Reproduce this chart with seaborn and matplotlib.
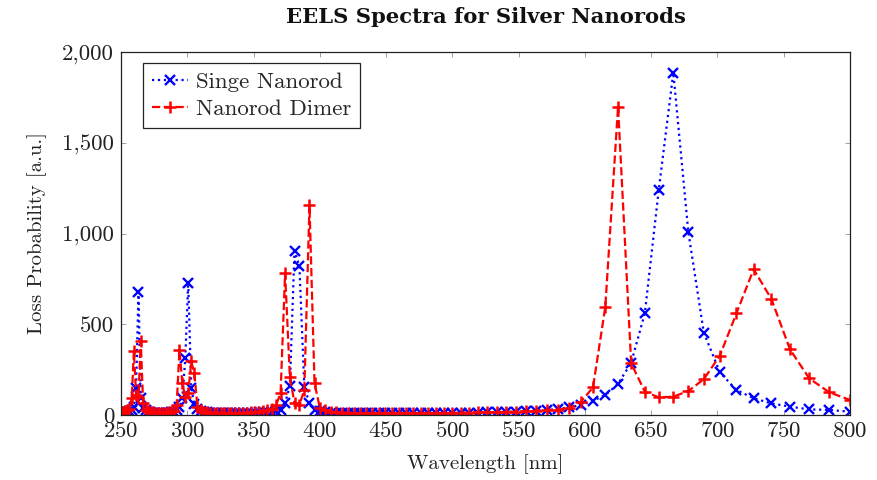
import matplotlib
matplotlib.use("Agg")
import matplotlib.pyplot as plt
from matplotlib.ticker import FuncFormatter
import seaborn as sns
import pandas as pd

wavelength = [
    250.0, 251.6, 253.2, 254.8, 256.4, 258.1, 259.7, 261.4, 263.2, 264.9, 266.7,
    268.5, 270.3, 272.1, 274.0, 275.9, 277.8, 279.7, 281.7, 283.7, 285.7,
    287.8, 289.9, 292.0, 294.1, 296.3, 298.5, 300.7, 303.0, 305.3, 307.7,
    310.1, 312.5, 315.0, 317.5, 320.0, 322.6, 325.2, 327.9, 330.6, 333.3,
    336.1, 339.0, 341.9, 344.8, 347.8, 350.9, 354.0, 357.1, 360.4, 363.6,
    367.0, 370.4, 373.8, 377.4, 380.9, 384.6, 388.3, 392.2, 396.0, 400.0,
    404.0, 408.2, 412.4, 416.7, 421.1, 425.5, 430.1, 434.8, 439.6, 444.4,
    449.4, 454.5, 459.8, 465.1, 470.6, 476.2, 481.9, 487.8, 493.8, 500.0,
    506.3, 512.8, 519.5, 526.3, 533.3, 540.5, 547.9, 555.6, 563.4, 571.4,
    579.7, 588.2, 597.0, 606.1, 615.4, 625.0, 634.9, 645.2, 655.7, 666.7,
    678.0, 689.7, 701.8, 714.3, 727.3, 740.7, 754.7, 769.2, 784.3, 800.0,
]

single_nanorod = [
    12, 13, 15, 18, 22, 30, 46, 150, 680, 95, 40,
    25, 18, 15, 13, 12, 11, 11, 11, 12, 13,
    15, 19, 28, 45, 92, 312, 730, 150, 60, 32,
    22, 17, 15, 13, 12, 11, 10, 10, 10, 10,
    10, 10, 11, 11, 12, 13, 14, 15, 17, 19,
    22, 30, 65, 160, 905, 820, 155, 65, 30, 20,
    15, 13, 12, 11, 10, 10, 10, 9, 9, 9,
    9, 9, 9, 9, 10, 10, 10, 10, 11, 11,
    11, 12, 13, 14, 15, 16, 18, 20, 23, 27,
    33, 42, 55, 79, 110, 171, 288, 560, 1240, 1886,
    1010, 454, 235, 138, 92, 64, 46, 31, 28, 18,
]

nanorod_dimer = [
    15, 17, 20, 25, 35, 92, 350, 110, 100, 405, 64,
    30, 20, 16, 14, 13, 12, 12, 12, 13, 14,
    17, 22, 55, 357, 175, 100, 120, 295, 230, 46,
    25, 18, 15, 13, 12, 11, 10, 10, 10, 10,
    11, 11, 12, 13, 14, 16, 18, 21, 25, 35,
    55, 120, 781, 210, 65, 55, 140, 1155, 175, 40,
    25, 18, 15, 13, 12, 11, 10, 10, 10, 10,
    10, 10, 10, 10, 10, 11, 11, 11, 12, 12,
    13, 13, 14, 15, 16, 17, 19, 21, 24, 28,
    30, 37, 73, 152, 597, 1699, 285, 129, 97, 101,
    132, 197, 327, 560, 803, 639, 362, 202, 125, 83,
]

series_labels = ["Singe Nanorod", "Nanorod Dimer"]
x_ticks = [250, 300, 350, 400, 450, 500, 550, 600, 650, 700, 750, 800]
y_ticks = [0, 500, 1000, 1500, 2000]

sns.set_style("ticks")
plt.rcParams["font.family"] = ["cmr10", "DejaVu Serif"]
plt.rcParams["axes.formatter.use_mathtext"] = True
plt.rcParams["font.size"] = 16

df = pd.DataFrame({"wl": wavelength, "single": single_nanorod, "dimer": nanorod_dimer})

fig = plt.figure(figsize=(8.77, 4.8), dpi=100)
ax = fig.add_axes([121 / 877, 65 / 480, 729 / 877, 363 / 480])

sns.lineplot(data=df, x="wl", y="single", ax=ax, sort=False, estimator=None,
             color="blue", linestyle=":", linewidth=1.6, marker="x",
             markersize=6.5, markeredgewidth=1.7, markeredgecolor="blue",
             markerfacecolor="blue", label=series_labels[0])
sns.lineplot(data=df, x="wl", y="dimer", ax=ax, sort=False, estimator=None,
             color="red", linestyle="--", linewidth=1.6, marker="+",
             markersize=9, markeredgewidth=1.8, markeredgecolor="red",
             markerfacecolor="red", label=series_labels[1])

ax.set_xlim(250, 800)
ax.set_ylim(0, 2000)
ax.set_xticks(x_ticks)
ax.set_yticks(y_ticks)
ax.yaxis.set_major_formatter(FuncFormatter(lambda v, p: f"{v:,.0f}"))

for s in ax.spines.values():
    s.set_visible(True)
    s.set_color("#222222")
    s.set_linewidth(0.9)

ax.tick_params(axis="both", which="major", direction="in", length=3.5, width=0.7,
               color="#a0a0a0", labelsize=16.5, top=True, right=True,
               labelcolor="#222222")
ax.tick_params(axis="x", pad=4.5)
ax.tick_params(axis="y", pad=5)

ax.set_xlabel("Wavelength [nm]", fontsize=15, color="#222222", labelpad=9)
ax.set_ylabel("Loss Probability [a.u.]", fontsize=15, color="#222222", labelpad=11)
ax.set_title("EELS Spectra for Silver Nanorods", fontsize=15.2,
             family=["DejaVu Serif"], fontweight="bold", color="#111111", pad=21)

handles = ax.get_lines()[:2]
leg = ax.legend(handles, series_labels, loc="upper left",
                bbox_to_anchor=(22 / 729, 1 - 11 / 363), borderaxespad=0,
                fontsize=16.5, frameon=True, fancybox=False, framealpha=1,
                edgecolor="#222222", handlelength=1.55, handletextpad=0.35,
                borderpad=0.4, labelspacing=0.3, numpoints=1)
leg.get_frame().set_linewidth(0.9)

fig.savefig("out.png", dpi=100)
